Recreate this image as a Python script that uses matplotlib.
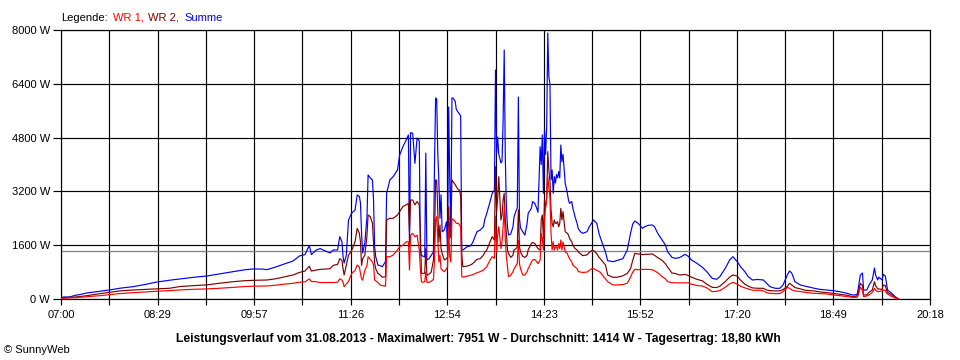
import matplotlib
matplotlib.use('Agg')
import matplotlib.pyplot as plt
import numpy as np

plt.rcParams['font.family'] = ['Liberation Sans', 'DejaVu Sans']

# minutes after 07:00
minutes = [0, 2, 8, 13, 17, 24, 36, 45, 54, 66, 77, 88, 100, 109, 123, 134, 146, 158, 169, 176,
           185, 189, 197, 204, 213, 219, 224, 228, 230, 234, 238, 247, 250, 254, 256, 258, 259, 260, 262, 264,
           267, 270, 272, 274, 275, 276, 277, 279, 281, 282, 284, 286, 287, 288, 289, 291, 293, 295, 298, 299,
           302, 305, 309, 311, 314, 317, 319, 320, 321, 323, 325, 327, 329, 330, 331, 332, 334, 335, 336, 338,
           340, 342, 343, 344, 345, 346, 347, 348, 349, 350, 352, 354, 355, 356, 357, 358, 359, 360, 362, 363,
           365, 366, 367, 368, 369, 373, 376, 378, 382, 385, 388, 389, 391, 394, 396, 398, 399, 400, 401, 402,
           404, 405, 406, 407, 408, 409, 410, 411, 413, 415, 416, 418, 419, 420, 421, 422, 424, 426, 428, 429,
           432, 433, 435, 437, 438, 440, 441, 442, 443, 444, 445, 446, 447, 448, 449, 450, 451, 452, 453, 454,
           455, 456, 457, 458, 459, 460, 461, 463, 465, 466, 467, 469, 470, 472, 474, 475, 477, 479, 483, 485,
           488, 489, 492, 494, 495, 500, 502, 507, 511, 516, 520, 523, 525, 527, 530, 534, 536, 539, 543, 545,
           548, 552, 555, 557, 561, 564, 568, 573, 576, 579, 584, 589, 593, 598, 602, 605, 610, 614, 617, 621,
           624, 628, 631, 635, 639, 642, 645, 648, 651, 656, 660, 663, 667, 669, 671, 674, 679, 683, 688, 692,
           697, 703, 709, 715, 722, 727, 731, 732, 734, 736, 737, 740, 742, 745, 747, 748, 750, 751, 754, 755,
           757, 758, 759, 763, 766, 769]

summe = [0, 60, 60, 110, 130, 180, 230, 270, 320, 366, 430, 505, 560, 595, 650, 684, 750, 813, 870, 892,
         890, 872, 950, 1030, 1130, 1280, 1320, 1590, 1320, 1450, 1500, 1368, 1457, 1457, 1853, 1700, 1258, 1070, 1300, 2349,
         2558, 2647, 3093, 3050, 2855, 1963, 1368, 1665, 2448, 3688, 3600, 3539, 2944, 1556, 1258, 1011, 990, 961, 1110, 3143,
         3539, 3638, 3837, 4283, 4531, 4729, 4877, 1556, 4950, 4927, 4035, 4788, 4700, 1457, 1300, 1280, 1250, 4342, 1160, 1200,
         1300, 1400, 4045, 5978, 5950, 4342, 3500, 2400, 3100, 2000, 2050, 2300, 1457, 5710, 3539, 2000, 5978, 5978, 5880, 5637,
         5540, 5500, 5450, 1457, 1457, 1556, 1580, 1676, 2002, 2052, 2151, 2349, 2548, 2894, 3143, 3242, 6810, 4342, 4818, 4300,
         4045, 4100, 5324, 7405, 4200, 2736, 2141, 1903, 1933, 2141, 2439, 2637, 2700, 6008, 2400, 2112, 2000, 1903, 2240, 2548,
         2700, 2894, 2850, 2687, 2578, 4531, 4000, 4878, 3143, 5027, 4300, 5126, 7911, 6602, 6404, 3540, 3840, 3143, 3638, 3450,
         3700, 3600, 3787, 3600, 4580, 4085, 4300, 3450, 3143, 2944, 2845, 2900, 2706, 2449, 2240, 2092, 2002, 1953, 2000, 2141,
         2300, 2349, 2250, 1953, 1853, 1390, 1140, 1110, 1150, 1200, 1457, 1953, 2230, 2320, 2250, 2102, 2150, 2190, 2201, 2150,
         1953, 1755, 1606, 1407, 1239, 1209, 1230, 1328, 1269, 1160, 1061, 942, 813, 615, 585, 664, 912, 1160, 1258, 1110,
         961, 813, 664, 565, 580, 575, 565, 466, 366, 317, 317, 416, 714, 833, 773, 515, 416, 386, 347, 317,
         287, 267, 248, 218, 168, 118, 130, 287, 714, 773, 267, 267, 416, 565, 922, 714, 565, 650, 565, 734,
         680, 466, 267, 168, 69, 0]

wr2 = [0, 40, 50, 60, 70, 100, 160, 200, 240, 268, 285, 300, 320, 370, 400, 420, 470, 515, 545, 555,
       560, 565, 600, 650, 714, 790, 830, 975, 830, 860, 880, 900, 1000, 1030, 1200, 1150, 900, 714, 1000, 1300,
       1450, 1700, 2102, 1950, 1700, 1000, 1200, 1300, 1900, 2498, 2450, 2250, 1650, 1070, 900, 763, 714, 650, 660, 2349,
       2399, 2399, 2498, 2597, 2750, 2800, 2845, 2000, 2944, 2944, 2800, 2900, 2800, 1953, 763, 763, 763, 1500, 704, 740,
       800, 1160, 1800, 3539, 3539, 2600, 1700, 2200, 1500, 1358, 1160, 1200, 1250, 2746, 1800, 1900, 3539, 3490, 3400, 3341,
       3242, 3242, 3044, 1358, 961, 980, 1011, 1050, 1180, 1200, 1308, 1380, 1457, 1705, 1853, 1750, 3935, 2600, 3000, 3638,
       2349, 2500, 2944, 3143, 2349, 1953, 1457, 1350, 1239, 1300, 1457, 1500, 1555, 2647, 1555, 1400, 1270, 1239, 1300, 1457,
       1655, 1680, 1655, 1555, 1500, 1457, 2349, 2500, 1800, 2944, 2700, 3000, 4382, 3837, 3500, 2647, 2250, 2151, 2349, 2250,
       2250, 2300, 2151, 2250, 2696, 2349, 2600, 2000, 1953, 1900, 1800, 1700, 1606, 1500, 1457, 1400, 1350, 1290, 1310, 1380,
       1457, 1440, 1350, 1239, 1209, 1011, 714, 644, 650, 690, 763, 900, 1150, 1358, 1340, 1320, 1330, 1330, 1340, 1300,
       1230, 1150, 1050, 950, 773, 760, 714, 730, 700, 650, 585, 540, 440, 347, 340, 380, 520, 650, 714, 680,
       560, 440, 386, 330, 320, 317, 317, 267, 250, 240, 240, 280, 380, 466, 420, 340, 300, 260, 250, 238,
       210, 190, 168, 140, 110, 69, 90, 150, 466, 400, 120, 120, 200, 267, 515, 400, 300, 300, 280, 416,
       400, 267, 200, 119, 50, 0]

wr1 = [0, 20, 30, 40, 50, 70, 100, 130, 160, 188, 210, 230, 250, 270, 290, 300, 320, 347, 370, 380,
       385, 387, 410, 440, 466, 500, 510, 595, 520, 515, 490, 490, 490, 500, 600, 560, 500, 366, 450, 520,
       763, 850, 1011, 950, 763, 600, 560, 850, 1000, 1258, 1180, 1100, 1011, 565, 540, 490, 416, 400, 380, 1258,
       1258, 1308, 1457, 1556, 1600, 1700, 1705, 862, 1900, 1953, 1850, 1900, 1457, 900, 515, 496, 515, 800, 496, 496,
       530, 580, 1160, 2349, 2448, 1755, 1100, 1300, 900, 862, 813, 900, 961, 2151, 1258, 1100, 2349, 2380, 2300, 2250,
       2250, 2200, 2150, 664, 650, 680, 700, 720, 783, 813, 862, 900, 961, 1160, 1258, 1208, 2448, 1400, 1900, 2151,
       1500, 1700, 2151, 2746, 1755, 1258, 961, 664, 700, 813, 900, 1000, 1050, 1755, 1050, 900, 714, 714, 813, 900,
       1100, 1160, 1180, 1100, 1050, 1160, 1953, 1800, 1457, 2349, 2746, 3000, 3638, 3300, 3000, 1953, 1457, 1700, 1457, 1555,
       1555, 1457, 1650, 1500, 1755, 1457, 1700, 1400, 1350, 1258, 1200, 1100, 1011, 950, 900, 813, 800, 790, 800, 850,
       912, 900, 850, 813, 800, 600, 515, 416, 420, 430, 470, 650, 800, 882, 870, 882, 882, 880, 870, 840,
       780, 664, 600, 515, 486, 480, 480, 480, 480, 440, 400, 386, 330, 218, 230, 250, 350, 450, 496, 440,
       380, 330, 300, 260, 260, 260, 240, 188, 170, 160, 160, 220, 347, 320, 270, 240, 220, 200, 180, 168,
       160, 150, 120, 100, 70, 50, 50, 100, 347, 250, 70, 90, 120, 200, 317, 260, 218, 220, 240, 270,
       250, 168, 150, 69, 30, 0]

durchschnitt = 1414
x_labels = ['07:00', '08:29', '09:57', '11:26', '12:54', '14:23', '15:52', '17:20', '18:49', '20:18']
y_ticks = [0, 1600, 3200, 4800, 6400, 8000]
day_span = 798  # 07:00 .. 20:18

fig = plt.figure(figsize=(9.6, 3.6), dpi=100)
ax = fig.add_axes([61/960, 61/360, 869/960, 269/360])

ax.axhline(durchschnitt, color='#808080', lw=0.9, zorder=2)
ax.plot(minutes, summe, color='#0000ff', lw=0.85, zorder=3)
ax.plot(minutes, wr2, color='#800000', lw=0.85, zorder=4)
ax.plot(minutes, wr1, color='#ff0000', lw=0.85, zorder=5)

ax.set_xlim(0, day_span)
ax.set_ylim(0, 8000)
ax.set_xticks(np.linspace(0, day_span, len(x_labels)))
ax.set_xticklabels(x_labels)
ax.set_xticks(np.linspace(0, day_span, 2*len(x_labels)-1), minor=True)
ax.set_yticks(y_ticks)
ax.set_yticklabels([f'{v} W' for v in y_ticks])
ax.grid(which='both', color='black', lw=0.85, zorder=1)
ax.set_axisbelow(True)
ax.tick_params(axis='x', which='both', direction='out', length=4, width=0.85, pad=4, labelsize=8)
ax.tick_params(axis='y', direction='out', length=6, width=0.85, pad=2, labelsize=8)
for s in ax.spines.values():
    s.set_linewidth(0.85)
    s.set_color('black')

# legend line at the top
fig.canvas.draw()
r = fig.canvas.get_renderer()
xpos = 61/960
for txt, col in [('Legende:', 'black'), ('WR 1,', '#ff0000'), ('WR 2,', '#800000'), ('Summe', '#0000ff')]:
    t = fig.text(xpos, 1 - 21/360, txt, color=col, fontsize=8, ha='left', va='baseline')
    bb = t.get_window_extent(renderer=r)
    xpos += (bb.width + 5) / 960

fig.text(478/960, 1 - 342/360,
         'Leistungsverlauf vom 31.08.2013 - Maximalwert: 7951 W - Durchschnitt: 1414 W - Tagesertrag: 18,80 kWh',
         ha='center', va='baseline', fontsize=8.7, fontweight='bold')
fig.text(4/960, 1 - 353/360, '\u00a9 SunnyWeb', ha='left', va='baseline', fontsize=8)

fig.savefig('out.png', dpi=100, facecolor='white')
